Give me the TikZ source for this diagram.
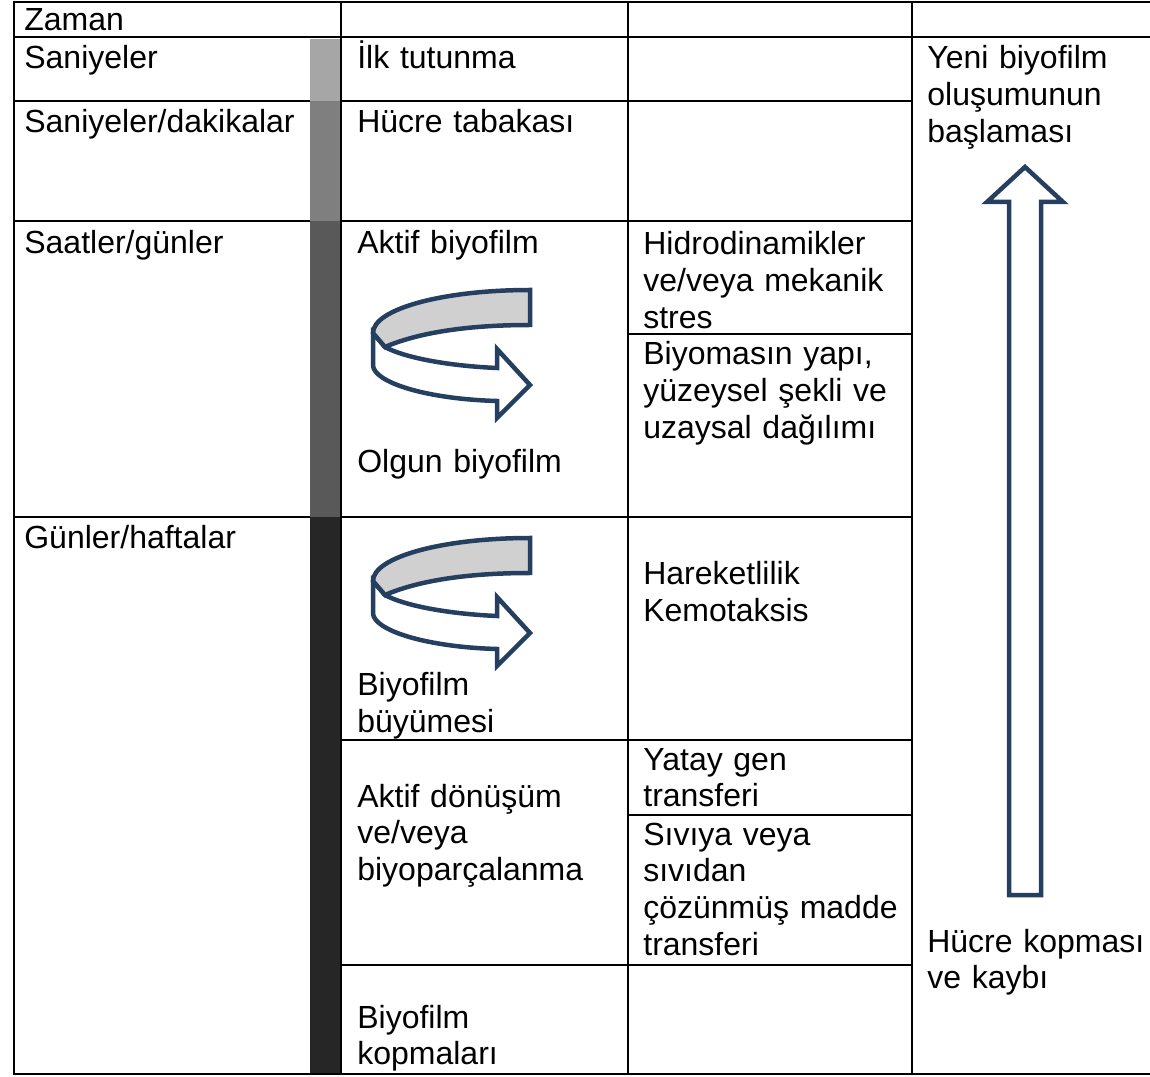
\documentclass[tikz,border=0pt]{standalone}
\usepackage{fontspec}
\setmainfont{Liberation Sans}
\definecolor{navy}{HTML}{243F60}
\definecolor{bandgray}{HTML}{D0D0D0}
\definecolor{barA}{HTML}{A6A6A6}
\definecolor{barB}{HTML}{7F7F7F}
\definecolor{barC}{HTML}{595959}
\definecolor{barD}{HTML}{262626}
\begin{document}
\begin{tikzpicture}[x=0.02cm,y=-0.02cm,
  grid/.style={line width=0.048cm, draw=black, line cap=rect},
  lbl/.style={anchor=base west, inner sep=0pt, text width=5.6cm, align=left,
    font=\fontsize{18.21pt}{20.94pt}\selectfont},
  bandshape/.style={draw=navy, fill=bandgray, line width=0.09cm, line join=miter},
  ribbon/.style={draw=navy, fill=white, line width=0.09cm, line join=miter},
  bigarrow/.style={draw=navy, fill=white, line width=0.09cm, line join=miter}]
\useasboundingbox (0,0) rectangle (1150,1077);

% grid lines
\draw[grid] (14,2) -- (1150,2);
\draw[grid] (14,37) -- (1150,37);
\draw[grid] (14,101) -- (912,101);
\draw[grid] (14,221) -- (912,221);
\draw[grid] (628,334) -- (912,334);
\draw[grid] (14,517) -- (912,517);
\draw[grid] (341,740) -- (912,740);
\draw[grid] (628,815) -- (912,815);
\draw[grid] (341,965) -- (912,965);
\draw[grid] (14,1074) -- (1150,1074);
\draw[grid] (14,2) -- (14,1074);
\draw[grid] (341,2) -- (341,1074);
\draw[grid] (628,2) -- (628,1074);
\draw[grid] (912,2) -- (912,1074);

% time bar
\fill[barA] (310,39) rectangle (340,101);
\fill[barB] (310,101) rectangle (340,221);
\fill[barC] (310,221) rectangle (340,517);
\fill[barD] (310,517) rectangle (340,1073);

% column 1
\node[lbl] (zaman) at (24,31) {Zaman};
\node[lbl] (sn) at (24,69) {Saniyeler};
\node[lbl] (sndk) at (24,133) {Saniyeler/dakikalar};
\node[lbl] (sagun) at (24,254) {Saatler/günler};
\node[lbl] (gunhf) at (24,549) {Günler/haftalar};

% column 3
\node[lbl] (ilk) at (357,69) {İlk tutunma};
\node[lbl] (hucre) at (357,133) {Hücre tabakası};
\node[lbl] (aktif) at (357,254) {Aktif biyofilm};
\node[lbl] (olgun) at (357,473) {Olgun biyofilm};
\node[lbl] (buyume) at (357,696) {Biyofilm\\büyümesi};
\node[lbl] (donusum) at (357,807) {Aktif dönüşüm\\ve/veya\\biyoparçalanma};
\node[lbl] (kopma) at (357,1028) {Biyofilm\\kopmaları};

% column 4
\node[lbl] (hidro) at (643,255) {Hidrodinamikler\\ve/veya mekanik\\stres};
\node[lbl] (biyomas) at (643,365) {Biyomasın yapı,\\yüzeysel şekli ve\\uzaysal dağılımı};
\node[lbl] (hareket) at (643,585) {Hareketlilik\\Kemotaksis};
\node[lbl] (yatay) at (643,770) {Yatay gen\\transferi};
\node[lbl] (sivi) at (643,845) {Sıvıya veya\\sıvıdan\\çözünmüş madde\\transferi};

% column 5
\node[lbl] (yeni) at (927,69) {Yeni biyofilm\\oluşumunun\\başlaması};
\node[lbl] (kayip) at (927,952) {Hücre kopması\\ve kaybı};

% big up arrow
\draw[bigarrow] (1009,895) -- (1009,202) -- (987,202) -- (1025,167) -- (1063,202)
  -- (1041,202) -- (1041,895) -- cycle;

% curved arrows
\foreach \dy in {0,248}{
\begin{scope}[shift={(0,\dy)}]
\draw[ribbon] (373,333) -- (373,365) .. controls (373,382) and (425,399) .. (497,401)
  -- (497,418) -- (530,385) -- (497,349) -- (497,368)
  .. controls (450,366) and (405,358) .. (385,347) -- cycle;
\draw[bandshape] (530,290) .. controls (443,290) and (373,309) .. (373,333)
  -- (385,347) .. controls (420,332) and (470,325) .. (530,325) -- cycle;
\end{scope}
}
\end{tikzpicture}
\end{document}
